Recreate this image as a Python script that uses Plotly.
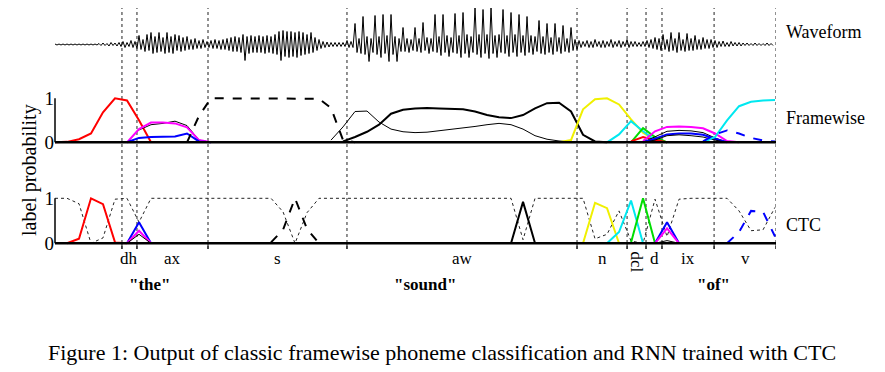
import plotly.graph_objects as go

# target picture is 885x372; the page body adds an 8 px margin, so the figure is 8 px smaller
OFF = 8
W, H = 885 - OFF, 372 - OFF
SERIF = "Liberation Serif, Times New Roman, serif"

# ---------------- data ----------------
# phoneme boundaries (frames, 1 frame = 10 ms)
boundaries = [5.58, 6.83, 12.75, 24.33, 43.5, 47.67, 49.25, 50.58, 54.92, 60.08]
phonemes = ["dh", "ax", "s", "aw", "n", "dcl", "d", "ix", "v"]
words = ['"the"', '"sound"', '"of"']
word_frames = [7.92, 30.83, 54.83]
n_frames = 60.08

# waveform envelope, 3 columns per frame (upper / lower extent, arbitrary amplitude units)
wave_up_sil = [0.5] * 11 + [1, 1.5, 1, 2, 1.5]
wave_dn_sil = [0.5] * 11 + [1, 1, 1.5, 1, 1.5]
wave_up_the = [2, 3, 2, 4, 3,
               9, 5, 10, 12, 8, 12, 7, 12, 8, 10, 9, 7, 8, 5, 6, 4, 5]
wave_dn_the = [2, 3, 2, 3, 4,
               5, 7, 6, 9, 8, 7, 9, 8, 9, 6, 7, 6, 5, 5, 4, 4, 3]
wave_up_s = [3, 4, 5, 4, 5, 6, 7, 8, 7, 10, 8, 9, 8, 9, 8, 9, 8, 10, 13, 14,
             13, 13, 12, 13, 12, 10, 12, 7, 5, 3, 2.5, 2, 2, 2, 2]
wave_dn_s = [3, 4, 4, 5, 5, 6, 7, 7, 8, 16, 9, 8, 8, 8, 9, 8, 9, 10, 16, 12,
             13, 12, 13, 11, 10, 9, 8, 6, 4, 3, 2.5, 2, 2, 2, 2]
wave_up_aw = [4, 3, 21, 6, 28, 8, 6, 29, 8, 30, 9, 30, 8, 6, 17, 6, 5, 17, 6, 22,
              7, 6, 30, 8, 30, 9, 7, 31, 9, 32, 10, 8, 37, 10, 35, 10, 37, 9, 10, 35,
              9, 32, 10, 30, 9, 28, 9, 8, 24, 8, 21, 7, 21, 7, 19, 6, 17, 5]
wave_dn_aw = [3, 3, 8, 9, 10, 17, 8, 10, 13, 9, 17, 10, 17, 7, 7, 8, 6, 7, 8, 6,
              9, 7, 8, 11, 8, 12, 8, 9, 13, 9, 13, 8, 10, 13, 9, 14, 9, 13, 8, 9,
              12, 8, 12, 8, 11, 8, 10, 7, 9, 10, 8, 10, 7, 9, 7, 8, 6, 5]
wave_up_of = [4, 3, 4, 3, 5, 3, 4, 3, 5, 3, 4, 3, 5, 3, 3, 2, 3, 4,
              5, 7, 6, 10, 5, 12, 6, 12, 5, 11, 6, 9, 5, 7, 5, 5,
              4, 3, 3.5, 2, 3, 2, 2, 1.5, 1.5, 1, 1.5, 1, 1, 1.5, 1]
wave_dn_of = [3, 2, 3, 3, 2, 3, 3, 2, 3, 2, 3, 2, 3, 2, 2, 2, 2, 3,
              4, 5, 6, 5, 7, 6, 8, 6, 7, 6, 6, 5, 5, 4, 4, 3,
              3, 2, 2, 2, 1.5, 1.5, 1.5, 1, 1, 1, 1, 1, 1, 1, 1]

# framewise outputs: (start frame, values per frame)
fw_red = (0, [0, 0.01, 0.07, 0.2, 0.68, 1.0, 0.95, 0.5, 0.0])
fw_magenta_the = (6, [0, 0.3, 0.45, 0.45, 0.43, 0.34, 0.05, 0])
fw_black_the = (6, [0, 0.28, 0.4, 0.43, 0.48, 0.38, 0.05, 0])
fw_blue_the = (6, [0, 0.1, 0.12, 0.13, 0.13, 0.2, 0.02, 0])
fw_s = (11, [0, 0.6, 1, 1, 1, 1, 1, 1, 1, 1, 1, 0.99, 0.78, 0.05, 0])
fw_aw_thin = (23, [0.05, 0.35, 0.7, 0.71, 0.46, 0.3, 0.24, 0.22, 0.23, 0.26, 0.29,
                   0.32, 0.36, 0.4, 0.43, 0.4, 0.3, 0.15, 0.07, 0.03, 0.01])
fw_aw = (24, [0.02, 0.12, 0.24, 0.4, 0.65, 0.74, 0.77, 0.78, 0.77, 0.76, 0.75, 0.7,
              0.62, 0.57, 0.55, 0.62, 0.77, 0.89, 0.9, 0.7, 0.17, 0.02, 0.0])
fw_yellow = (42, [0, 0.05, 0.75, 0.98, 1.0, 0.86, 0.52, 0.22, 0.05, 0])
fw_cyan_dcl = (46, [0, 0.18, 0.48, 0.25, 0.05, 0])
fw_green = (48, [0, 0.32, 0.12, 0])
fw_red_d = (48, [0.02, 0.12, 0.05, 0])
fw_black_ix1 = (49, [0, 0.12, 0.25, 0.27, 0.26, 0.22, 0.1, 0])
fw_black_ix2 = (49, [0, 0.05, 0.15, 0.17, 0.15, 0.12, 0.05, 0])
fw_magenta_ix = (49, [0.03, 0.25, 0.35, 0.36, 0.35, 0.32, 0.2, 0.03, 0])
fw_blue_ix = (49, [0, 0.08, 0.18, 0.2, 0.2, 0.17, 0.08, 0])
fw_cyan_v = (54, [0, 0.12, 0.5, 0.82, 0.92, 0.95, 0.96])
fw_blue_v = (54, [0.02, 0.18, 0.27, 0.2, 0.1, 0.04, 0.02])

# CTC outputs
ctc_blank = (0, [1.0, 1.0, 0.88, 0.0, 0.12, 0.98, 1.0, 0.47, 1.0, 1, 1, 1, 1, 1, 1, 1, 1, 1,
                 1.0, 0.7, 0.0, 0.68, 1.0] + [1.0] * 16 +
             [0.08, 1, 1, 1, 1, 1.0, 0.1, 0.2, 0.72, 0.05, 0.0, 0.98, 0.15, 0.98,
              1, 1, 1, 1.0, 0.72, 0.28, 0.3, 0.8])
ctc_red = (1, [0, 0.1, 1.0, 0.87, 0.02, 0])
ctc_black_dh = (6, [0, 0.2, 0])
ctc_magenta_dh = (6, [0, 0.28, 0])
ctc_blue_dh = (6, [0, 0.47, 0])
ctc_s = (18, [0.02, 0.3, 1.0, 0.32, 0])
ctc_aw = (38, [0, 0.92, 0])
ctc_yellow = (44, [0, 0.9, 0.78, 0])
ctc_cyan = (46, [0, 0.25, 0.95, 0])
ctc_green = (48, [0.02, 1.0, 0])
ctc_black_ix = (50, [0, 0.06, 0])
ctc_magenta_ix = (50, [0, 0.33, 0])
ctc_blue_ix = (50, [0, 0.47, 0])
ctc_blue_v = (56, [0, 0.25, 0.72, 0.7, 0.15])

# ---------------- layout helpers ----------------
def pyf(py):  # target pixel row -> paper fraction
    return min(1.0, max(0.0, (H - (py - OFF)) / H))


def pxf(px):  # target pixel column -> paper fraction
    return min(1.0, max(0.0, (px - OFF) / W))


X0, X1 = 55, 776
fig = go.Figure()

# waveform
wave_up = wave_up_sil + wave_up_the + wave_up_s + wave_up_aw + wave_up_of
wave_dn = wave_dn_sil + wave_dn_the + wave_dn_s + wave_dn_aw + wave_dn_of
wx, wy = [], []
for i, (u, d) in enumerate(zip(wave_up, wave_dn)):
    wx += [i / 3.0, i / 3.0 + 1 / 6.0]
    wy += [u, -d]
fig.add_trace(go.Scatter(x=wx, y=wy, mode="lines", yaxis="y",
                         line=dict(color="black", width=1), showlegend=False, hoverinfo="skip"))


def add_curve(series, yaxis, color, width=2, dash="solid"):
    start, vals = series
    fig.add_trace(go.Scatter(x=[start + k for k in range(len(vals))], y=vals, mode="lines",
                             yaxis=yaxis, line=dict(color=color, width=width, dash=dash),
                             showlegend=False, hoverinfo="skip"))


RED, MAG, BLUE, YEL, CYAN, GRN = "#ff0000", "#ff00ff", "#0000ff", "#f0f000", "#00e8f0", "#00dd00"

# framewise
add_curve(fw_red, "y2", RED)
add_curve(fw_black_the, "y2", "black", 1)
add_curve(fw_magenta_the, "y2", MAG)
add_curve(fw_blue_the, "y2", BLUE)
add_curve(fw_s, "y2", "black", 2, "dash")
add_curve(fw_aw_thin, "y2", "black", 1)
add_curve(fw_aw, "y2", "black", 2)
add_curve(fw_yellow, "y2", YEL)
add_curve(fw_cyan_dcl, "y2", CYAN)
add_curve(fw_green, "y2", GRN)
add_curve(fw_red_d, "y2", RED)
add_curve(fw_magenta_ix, "y2", MAG)
add_curve(fw_black_ix1, "y2", "black", 1)
add_curve(fw_blue_ix, "y2", BLUE)
add_curve(fw_black_ix2, "y2", "black", 1)
add_curve(fw_cyan_v, "y2", CYAN)
add_curve(fw_blue_v, "y2", BLUE, 2, "dash")

# CTC
add_curve(ctc_blank, "y3", "#222222", 1, "dot")
add_curve(ctc_red, "y3", RED)
add_curve(ctc_blue_dh, "y3", BLUE)
add_curve(ctc_magenta_dh, "y3", MAG)
add_curve(ctc_black_dh, "y3", "black", 1)
add_curve(ctc_s, "y3", "black", 2, "dash")
add_curve(ctc_aw, "y3", "black", 2)
add_curve(ctc_yellow, "y3", YEL)
add_curve(ctc_cyan, "y3", CYAN)
add_curve(ctc_green, "y3", GRN)
add_curve(ctc_blue_ix, "y3", BLUE)
add_curve(ctc_magenta_ix, "y3", MAG)
add_curve(ctc_black_ix, "y3", "black", 1)
add_curve(ctc_blue_v, "y3", BLUE, 2, "dash")

shapes = []
# phoneme boundaries
for b in boundaries:
    shapes.append(dict(type="line", xref="x", yref="paper", x0=b, x1=b,
                       y0=pyf(249), y1=1, line=dict(color="#222", width=1, dash="dot"),
                       layer="below"))
    shapes.append(dict(type="line", xref="x", yref="paper", x0=b, x1=b,
                       y0=pyf(249), y1=pyf(243), line=dict(color="black", width=1)))
for ya in ["y2", "y3"]:
    shapes.append(dict(type="line", xref="x", yref=ya, x0=0, x1=n_frames, y0=0, y1=0,
                       line=dict(color="black", width=2.5)))
    shapes.append(dict(type="line", xref="paper", yref=ya, x0=pxf(X0), x1=pxf(X0), y0=0, y1=1,
                       line=dict(color="black", width=1.5)))


def text(x, y, s, size, xref="paper", angle=0, xanchor="center"):
    return dict(x=x, y=y, xref=xref, yref="paper", text=s, showarrow=False,
                xanchor=xanchor, yanchor="middle", textangle=angle,
                font=dict(family=SERIF, size=size, color="black"))


ann = []
for k, ph in enumerate(phonemes):
    xc = (boundaries[k] + boundaries[k + 1]) / 2
    if ph == "dcl":
        ann.append(text(xc, pyf(262), ph, 17, xref="x", angle=90))
    else:
        ann.append(text(xc, pyf(258), ph, 17, xref="x"))
for w, xf in zip(words, word_frames):
    ann.append(text(xf, pyf(284), "<b>" + w + "</b>", 17, xref="x"))
for s, yy in [("Waveform", 32), ("Framewise", 118), ("CTC", 225)]:
    ann.append(text(pxf(784), pyf(yy), s, 18, xanchor="left"))
ann.append(text(pxf(29), pyf(170), "label probability", 20, angle=-90))
ann.append(text(pxf(442), pyf(352),
                "Figure 1: Output of classic framewise phoneme classification and RNN trained with CTC",
                22))


def ydom(py_top, py_bot):
    return [pyf(py_bot), pyf(py_top)]


WAVE_C, WAVE_HALF = 44.5, 36.5
fig.update_layout(
    width=W, height=H, margin=dict(l=0, r=0, t=0, b=0, pad=0, autoexpand=False),
    paper_bgcolor="white", plot_bgcolor="rgba(0,0,0,0)",
    xaxis=dict(domain=[pxf(X0), pxf(X1)], range=[0, n_frames], visible=False, fixedrange=True,
               automargin=False),
    yaxis=dict(domain=ydom(WAVE_C - WAVE_HALF, WAVE_C + WAVE_HALF),
               range=[-WAVE_HALF, WAVE_HALF], visible=False, anchor="x", automargin=False),
    yaxis2=dict(domain=ydom(98.3 - 4.4, 142.3 + 4.4), range=[-0.1, 1.1], anchor="x",
                tickvals=[0, 1], ticktext=["0", "1"], ticks="", showgrid=False, zeroline=False,
                showline=False, automargin=False,
                tickfont=dict(family=SERIF, size=19, color="black")),
    yaxis3=dict(domain=ydom(198.3 - 4.5, 243.3 + 4.5), range=[-0.1, 1.1], anchor="x",
                tickvals=[0, 1], ticktext=["0", "1"], ticks="", showgrid=False, zeroline=False,
                showline=False, automargin=False,
                tickfont=dict(family=SERIF, size=19, color="black")),
    shapes=shapes, annotations=ann, showlegend=False,
)
fig.write_html("out.html")
